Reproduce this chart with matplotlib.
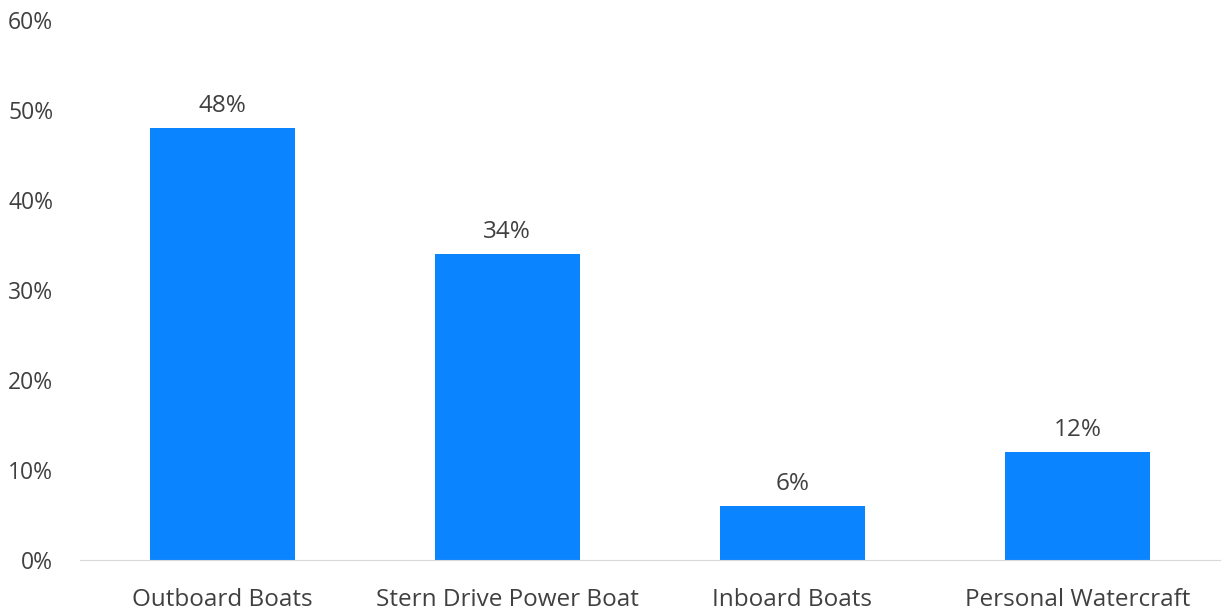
import matplotlib.pyplot as plt
from matplotlib.ticker import PercentFormatter

# Data
categories = ['Outboard Boats', 'Stern Drive Power Boat', 'Inboard Boats', 'Personal Watercraft']
shares = [48, 34, 6, 12]
y_ticks = [0, 10, 20, 30, 40, 50, 60]

plt.rcParams['font.family'] = ['Open Sans', 'DejaVu Sans']

fig = plt.figure(figsize=(12.26, 6.12), dpi=100)
ax = fig.add_axes([0.065, 0.085, 0.930, 0.882])

x = range(len(categories))
bars = ax.bar(x, shares, width=0.51, color='#0A84FF')

# waarde boven elke staaf
for b, v in zip(bars, shares):
    ax.annotate('{}%'.format(v), (b.get_x() + b.get_width() / 2, v),
                xytext=(0, 7), textcoords='offset points',
                ha='center', va='bottom', fontsize=17.5, color='#404040')

ax.set_xticks(list(x))
ax.set_xticklabels(categories)
ax.set_yticks(y_ticks)
ax.yaxis.set_major_formatter(PercentFormatter(decimals=0))
ax.set_ylim(0, 60)
ax.set_xlim(-0.5, len(categories) - 0.5)

for s in ['top', 'right', 'left']:
    ax.spines[s].set_visible(False)
ax.spines['bottom'].set_color('#D9D9D9')
ax.tick_params(axis='both', length=0, labelsize=17.5, colors='#404040')
ax.tick_params(axis='x', pad=20)
ax.tick_params(axis='y', labelsize=16.5, pad=19)

fig.savefig('out.png', dpi=100)
